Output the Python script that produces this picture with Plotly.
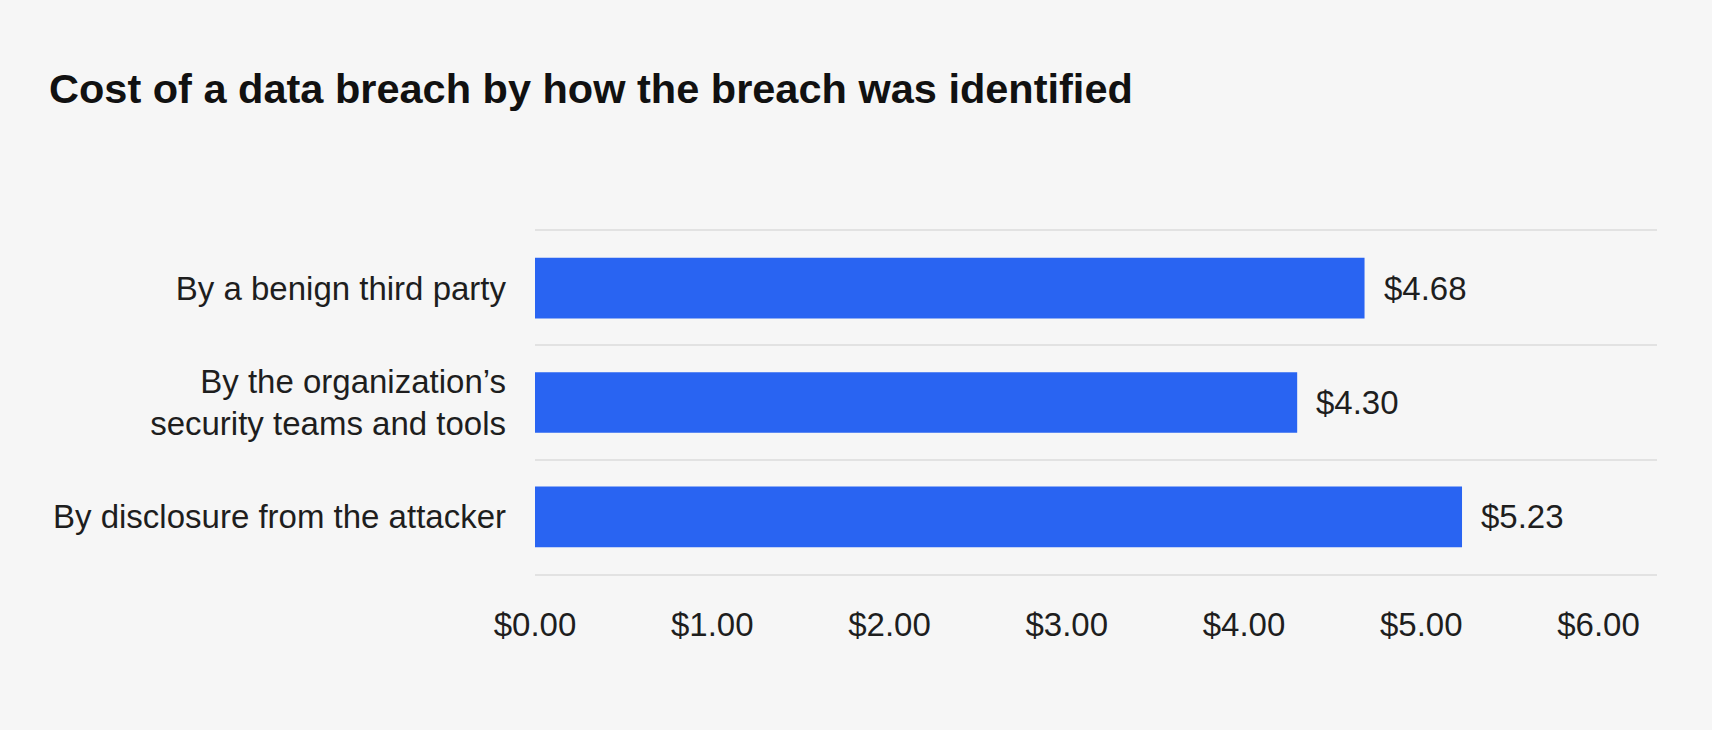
"""Cost of a data breach by how the breach was identified (horizontal bars)."""
import plotly.graph_objects as go

# Categories listed top to bottom, costs in USD millions
CATEGORIES = [
    "By a benign third party",
    "By the organization’s<br>security teams and tools",
    "By disclosure from the attacker",
]
COSTS = [4.68, 4.30, 5.23]
X_TICKS = [0, 1, 2, 3, 4, 5, 6]

BAR_BLUE = "#2964f2"
BG = "#f6f6f6"
INK = "#1e1e1e"
GRID = "#e2e2e2"
FONT = "Liberation Sans, Arial, sans-serif"

fig = go.Figure(go.Bar(
    x=COSTS,
    y=CATEGORIES,
    orientation="h",
    marker=dict(color=BAR_BLUE, line=dict(width=0)),
    hoverinfo="skip",
))

# value labels to the right of each bar
for cat, val in zip(CATEGORIES, COSTS):
    fig.add_annotation(
        x=val, y=cat, text=f"${val:.2f}",
        xanchor="left", yanchor="middle", xshift=17,
        showarrow=False,
        font=dict(family=FONT, size=33, color=INK),
    )

fig.update_layout(
    width=1712, height=730,
    paper_bgcolor=BG, plot_bgcolor=BG,
    margin=dict(l=535, r=55, t=231, b=156),
    bargap=0.47,
    showlegend=False,
    title=dict(
        text="Cost of a data breach by how the breach was identified",
        x=49 / 1712, xref="container", xanchor="left",
        y=1 - 88 / 730, yanchor="middle",
        font=dict(family=FONT, size=41.5, color="#111111", weight=700),
    ),
    xaxis=dict(
        range=[0, 6.33],
        tickvals=X_TICKS,
        tickformat="$.2f",
        showgrid=False, zeroline=False,
        # top and bottom rules of the plot area
        showline=True, mirror=True, linecolor=GRID, linewidth=2,
        ticks="", ticklabelstandoff=20,
        tickfont=dict(family=FONT, size=33, color=INK),
        fixedrange=True,
    ),
    yaxis=dict(
        autorange="reversed",
        tickson="boundaries",
        showgrid=True, gridcolor=GRID, gridwidth=2,
        zeroline=False, showline=False,
        ticks="", ticklabelstandoff=28,
        tickfont=dict(family=FONT, size=33, color=INK),
        fixedrange=True,
    ),
)

fig.write_html(
    "out.html",
    config={"displayModeBar": False},
    post_script="document.body.style.margin='0';"
                "document.body.style.background='%s';" % BG,
)
